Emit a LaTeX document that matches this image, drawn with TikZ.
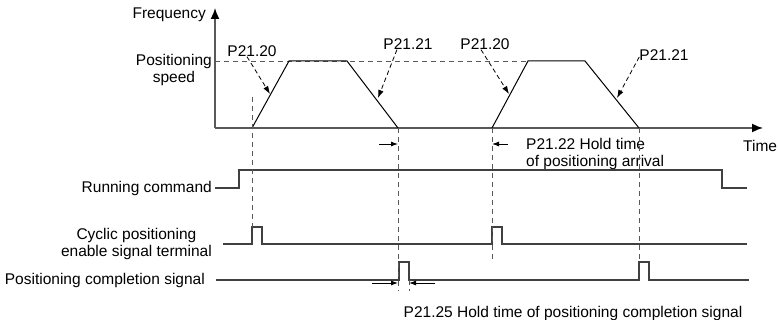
\documentclass[tikz,border=0pt]{standalone}
\usepackage{fontspec}
\setmainfont{Liberation Sans}
\usetikzlibrary{arrows.meta,positioning}

\begin{document}
\begin{tikzpicture}[x=1pt,y=-1pt,>=Latex,
  txt/.style={font=\fontsize{15.5}{17}\selectfont,inner sep=0pt},
  axis/.style={line width=1.6pt,draw=black!65,-{Latex[length=11pt,width=9pt,color=black]}},
  wave/.style={line width=1.2pt,draw=black!75},
  ramp/.style={line width=1pt,draw=black},
  guide/.style={dash pattern=on 5pt off 4pt,line width=0.9pt,draw=black!65},
  hint/.style={dash pattern=on 4.5pt off 3pt,line width=0.8pt,-{Latex[length=8pt,width=5.5pt]}},
  hold/.style={line width=0.9pt,-{Latex[length=7pt,width=5pt]}}]
  \useasboundingbox (0,0) rectangle (778,320);

  % axes
  \coordinate (O) at (215,128);
  \coordinate (ytop) at (215,8);
  \coordinate (xend) at (763,128);
  \draw[axis] (O) -- (ytop);
  \draw[axis] (O) -- (xend);
  \node[txt,anchor=east] (freq) at (206,15) {Frequency};
  \node[txt,anchor=east,align=center] (vpos) at (212,70) {Positioning\\speed};
  \node[txt,anchor=west] (time) at (743,146) {Time};

  % speed profile
  \coordinate (a0) at (252,128); \coordinate (a1) at (289,61);
  \coordinate (a2) at (347,61);  \coordinate (a3) at (398,128);
  \coordinate (b0) at (492,128); \coordinate (b1) at (528,61);
  \coordinate (b2) at (585,61);  \coordinate (b3) at (639,128);
  \draw[guide] (215,61) -- (b1);
  \draw[ramp] (a0) -- (a1) -- (a2) -- (a3);
  \draw[ramp] (b0) -- (b1) -- (b2) -- (b3);

  % parameter labels
  \node[txt] (acc1) at (252,51) {P21.20};
  \node[txt] (dec1) at (408,44) {P21.21};
  \node[txt] (acc2) at (485,44) {P21.20};
  \node[txt] (dec2) at (664,55) {P21.21};
  \coordinate (acc1e) at (270,94);
  \coordinate (dec1e) at (378,98);
  \coordinate (acc2e) at (509,94);
  \coordinate (dec2e) at (617,98);
  \draw[hint] ([xshift=-5pt]acc1.south) -- (acc1e);
  \draw[hint] ([xshift=-11pt]dec1.south) -- (dec1e);
  \draw[hint] ([xshift=-4pt]acc2.south) -- (acc2e);
  \draw[hint] ([yshift=-2pt]dec2.west) -- (dec2e);

  % hold time of positioning arrival
  \draw[hold] (379,144) -- (398,144);
  \draw[hold] (508,144) -- (492,144);
  \node[txt,anchor=west,align=left] (hold1) at (526,154) {P21.22 Hold time\\of positioning arrival};

  % signals
  \node[txt,anchor=east] (run) at (212,188) {Running command};
  \draw[wave] ([xshift=3pt]run.east) -- (239,188) -- (239,170) -- (722,170) -- (722,188) -- (747,188);
  \node[txt,anchor=east,align=center] (cyc) at (212,244) {Cyclic positioning\\enable signal terminal};
  \draw[wave] ([xshift=11pt]cyc.east) -- (252,244) -- (252,227) -- (262,227) -- (262,244)
    -- (492,244) -- (492,227) -- (502,227) -- (502,244) -- (747,244);
  \node[txt,anchor=east] (done) at (205,280) {Positioning completion signal};
  \draw[wave] ([xshift=11pt]done.east) -- (399,280) -- (399,262) -- (409,262) -- (409,280)
    -- (639,280) -- (639,262) -- (649,262) -- (649,280) -- (749,280);

  % guides
  \draw[guide] (252,97) -- (252,227);
  \draw[guide] (a3) -- (398,291);
  \draw[guide] (409,280) -- (409,291);
  \draw[guide] (b0) -- (492,262);
  \draw[guide] (b3) -- (639,262);

  % hold time of completion signal
  \draw[hold] (372,283) -- (398,283);
  \draw[hold] (435,283) -- (409,283);
  \node[txt] (hold2) at (573,313) {P21.25 Hold time of positioning completion signal};
\end{tikzpicture}
\end{document}
